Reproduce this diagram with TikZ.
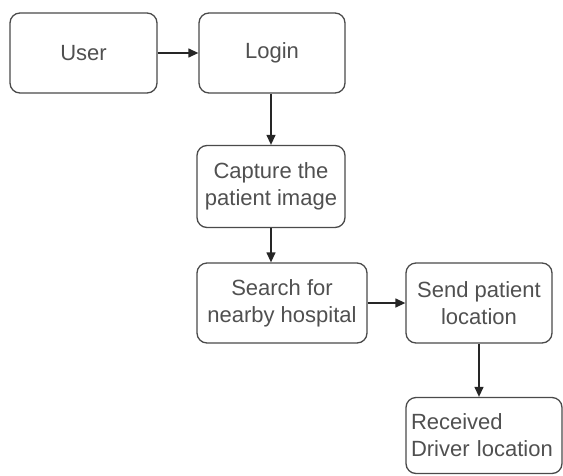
\documentclass[tikz,border=0pt]{standalone}
\usepackage{fontspec}
\setmainfont{Liberation Sans}
\usepackage{tikz}
\usetikzlibrary{arrows.meta}
\definecolor{boxline}{HTML}{4A4A4A}
\definecolor{boxtext}{HTML}{505050}
\tikzset{
    flow-box/.style = {draw=boxline, fill=white, line width=1.3pt, rectangle, rounded corners=10pt, align=center, text=boxtext, font=\fontsize{22}{27}\selectfont, inner sep=2pt},
    flow-arrow/.style = {draw=black!85, line width=1.3pt, -{Triangle[length=10pt,width=9pt]}},
}

\begin{document}
\begin{tikzpicture}[x=1pt,y=-1pt]
\useasboundingbox (0,0) rectangle (563,475);
\node [flow-box, minimum width=147pt, minimum height=80pt] (user) at (83.5,53) {User};
\node [flow-box, minimum width=146pt, minimum height=80pt] (login) at (272,53) {Login};
\node [flow-box, minimum width=148pt, minimum height=82pt] (capture) at (271,186.5) {Capture the\\patient image};
\node [flow-box, minimum width=170pt, minimum height=80pt] (search) at (282,303) {Search for\\nearby hospital};
\node [flow-box, minimum width=146pt, minimum height=80pt] (send) at (479,303) {Send patient\\location};
\node [flow-box, text width=146pt, inner xsep=5pt, minimum height=76pt, align=left] (received) at (484,435.5) {Received\\Driver location};
\draw [flow-arrow] (user) -- (login);
\draw [flow-arrow] (login.south -| capture) -- (capture);
\draw [flow-arrow] (capture) -- (capture |- search.north);
\draw [flow-arrow] (search) -- (send);
\draw [flow-arrow] (send) -- (send |- received.north);
\end{tikzpicture}
\end{document}
